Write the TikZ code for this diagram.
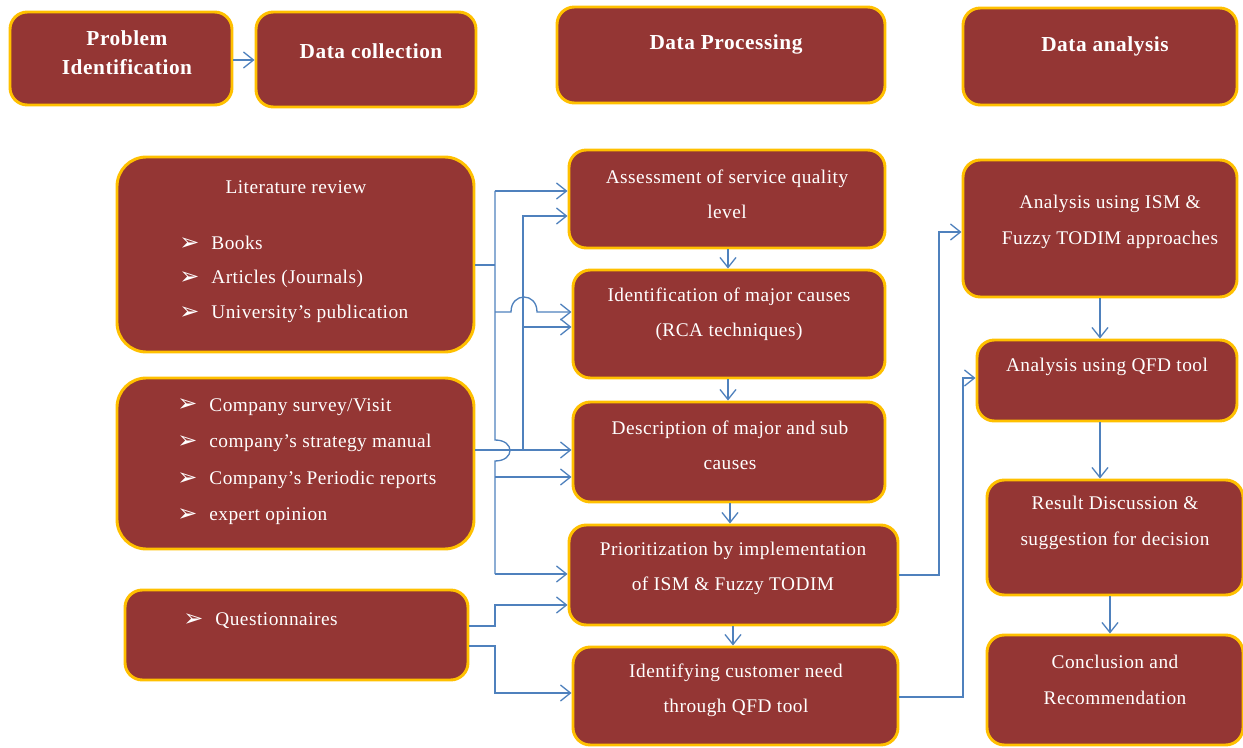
\documentclass[tikz,border=0pt]{standalone}
\usepackage{fontspec}
\setmainfont{Liberation Serif}[LetterSpace=2.5]
\newfontfamily\djv{DejaVu Sans}
\usetikzlibrary{arrows.meta,fit}
\definecolor{boxfill}{RGB}{148,54,52}
\definecolor{boxline}{RGB}{255,192,0}
\definecolor{connblue}{RGB}{79,129,189}
\newcommand\bul{{\djv\fontsize{18}{18}\selectfont\raisebox{-0.5pt}{➢}}\hspace{9pt}}
\begin{document}
\begin{tikzpicture}[x=0.75pt,y=-0.75pt,
 box/.style={draw=boxline, line width=2.2pt, fill=boxfill, rounded corners=13pt, inner sep=0pt},
 txt/.style={text=white, font=\fontsize{14.5}{17}\selectfont, inner sep=0pt},
 ttl/.style={text=white, font=\bfseries\fontsize{16}{21.5}\selectfont, inner sep=0pt, align=center},
 arr/.style={draw=connblue, line width=1pt, -{Straight Barb[length=7.5pt,width=12pt]}},
 lin/.style={draw=connblue, line width=1pt}]
\useasboundingbox (0,0) rectangle (1243,748);
% header boxes
\node[box, fit={(10,12)(232,105)}] (prob) {};
\node[box, fit={(256,12)(476,107)}] (dcol) {};
\node[box, fit={(557,7)(885,103)}] (dproc) {};
\node[box, fit={(963,8)(1237,105)}] (dana) {};
\node[ttl] (prob-t) at (127,53) {Problem\\Identification};
\node[ttl] (dcol-t) at (371,51) {Data collection};
\node[ttl] (dproc-t) at (726,44) {Data Processing};
\node[ttl] (dana-t) at (1105,46) {Data analysis};
% left column
\node[box, rounded corners=22pt, fit={(117,157)(474,352)}] (lit) {};
\node[box, rounded corners=22pt, fit={(117,378)(474,549)}] (comp) {};
\node[box, fit={(125,590)(468,680)}] (quest) {};
\node[txt] (lit-t) at (296,187) {Literature review};
\node[txt, anchor=west] (lit-1) at (179,243) {\bul Books};
\node[txt, anchor=west] (lit-2) at (179,279) {\bul Articles (Journals)};
\node[txt, anchor=west] (lit-3) at (179,314) {\bul University’s publication};
\node[txt, anchor=west] (comp-1) at (177,407) {\bul Company survey/Visit};
\node[txt, anchor=west] (comp-2) at (177,443) {\bul company’s strategy manual};
\node[txt, anchor=west] (comp-3) at (177,480) {\bul Company’s Periodic reports};
\node[txt, anchor=west] (comp-4) at (177,516) {\bul expert opinion};
\node[txt, anchor=west] (quest-1) at (183,621) {\bul Questionnaires};
% middle column
\node[box, fit={(569,150)(885,248)}] (assess) {};
\node[box, fit={(573,270)(885,378)}] (ident) {};
\node[box, fit={(573,402)(885,502)}] (desc) {};
\node[box, fit={(569,525)(898,625)}] (prio) {};
\node[box, fit={(573,647)(898,745)}] (cust) {};
\node[txt, align=center, font=\fontsize{14.5}{26.5}\selectfont] (assess-t) at (727,194) {Assessment of service quality\\level};
\node[txt, align=center, font=\fontsize{14.5}{26.5}\selectfont] (ident-t) at (729,314) {Identification of major causes\\(RCA techniques)};
\node[txt, align=center, font=\fontsize{14.5}{26.5}\selectfont] (desc-t) at (730,445) {Description of major and sub\\causes};
\node[txt, align=center, font=\fontsize{14.5}{26.5}\selectfont] (prio-t) at (733,568.5) {Prioritization by implementation\\of ISM \& Fuzzy TODIM};
\node[txt, align=center, font=\fontsize{14.5}{26.5}\selectfont] (cust-t) at (736,690) {Identifying customer need\\through QFD tool};
% right column
\node[box, fit={(963,160)(1237,297)}] (ism) {};
\node[box, fit={(977,340)(1237,421)}] (qfd) {};
\node[box, fit={(987,480)(1243,595)}] (res) {};
\node[box, fit={(987,635)(1243,745)}] (conc) {};
\node[txt, align=center, font=\fontsize{14.5}{27.5}\selectfont] (ism-t) at (1110,222) {Analysis using ISM \&\\Fuzzy TODIM approaches};
\node[txt] (qfd-t) at (1107,367) {Analysis using QFD tool};
\node[txt, align=center, font=\fontsize{14.5}{26.5}\selectfont] (res-t) at (1115,523) {Result Discussion \&\\suggestion for decision};
\node[txt, align=center, font=\fontsize{14.5}{27}\selectfont] (conc-t) at (1115,679.5) {Conclusion and\\Recommendation};
% connectors
\draw[arr] (prob.east |- 0,60) -- (dcol.west |- 0,60);
\draw[lin] (lit.east |- 0,265) -- (495,265);
\draw[lin] (495,191) -- (495,440) .. controls (515,440) and (515,461) .. (495,461) -- (495,574);
\draw[arr] (495,191) -- (assess.west |- 0,191);
\draw[arr] (495,312) -- (511,312) .. controls (511,292) and (537,292) .. (537,312) -- (ident.west |- 0,312);
\draw[arr] (495,477) -- (desc.west |- 0,477);
\draw[arr] (495,574) -- (prio.west |- 0,574);
\draw[arr] (comp.east |- 0,450) -- (desc.west |- 0,450);
\draw[arr] (523,450) -- (523,216) -- (assess.west |- 0,216);
\draw[arr] (523,327) -- (ident.west |- 0,327);
\draw[arr] (quest.east |- 0,626) -- (495,626) -- (495,605) -- (prio.west |- 0,605);
\draw[arr] (quest.east |- 0,646) -- (495,646) -- (495,693) -- (cust.west |- 0,693);
\draw[arr] (prio.east |- 0,575) -- (939,575) -- (939,232) -- (ism.west |- 0,232);
\draw[arr] (cust.east |- 0,697) -- (963,697) -- (963,378) -- (qfd.west |- 0,378);
\draw[arr] (assess.south -| 728,0) -- (ident.north -| 728,0);
\draw[arr] (ident.south -| 728,0) -- (desc.north -| 728,0);
\draw[arr] (desc.south -| 730,0) -- (prio.north -| 730,0);
\draw[arr] (prio.south -| 733,0) -- (cust.north -| 733,0);
\draw[arr] (ism.south -| 1100,0) -- (qfd.north -| 1100,0);
\draw[arr] (qfd.south -| 1100,0) -- (res.north -| 1100,0);
\draw[arr] (res.south -| 1110,0) -- (conc.north -| 1110,0);
\end{tikzpicture}
\end{document}
